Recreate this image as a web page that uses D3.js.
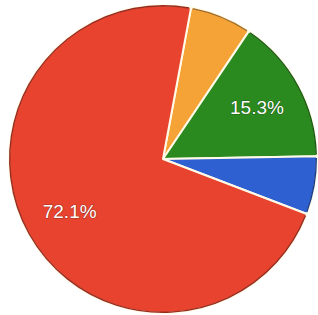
<!DOCTYPE html>
<html><head><meta charset="utf-8">
<script src="https://cdn.jsdelivr.net/npm/d3@7"></script>
<style>html,body{margin:0;padding:0;background:#fff;}</style>
</head><body>
<script>
const categories = ["Orange", "Green", "Blue", "Red"];
const values = [6.5, 15.3, 6.1, 72.1];
const labels = ["", "15.3%", "", "72.1%"];
const colors = ["#f5a236", "#2b8a1f", "#2f60d2", "#e8432f"];

const W = 318, H = 315, cx = 163, cy = 159, R = 154;
const startDeg = 10.5;

const svg = d3.select("body").append("svg").attr("width", W).attr("height", H);
const g = svg.append("g").attr("transform", `translate(${cx},${cy})`);

const pie = d3.pie().sort(null).value(d => d)
  .startAngle(startDeg * Math.PI / 180)
  .endAngle(startDeg * Math.PI / 180 + 2 * Math.PI);
const arcs = pie(values);
const arc = d3.arc().innerRadius(0).outerRadius(R);
const rim = d3.arc().innerRadius(R - 0.6).outerRadius(R - 0.6);
const labelArc = d3.arc().innerRadius(107).outerRadius(107);

g.selectAll("path.slice").data(arcs).join("path")
  .attr("class", "slice")
  .attr("d", arc)
  .attr("fill", (d, i) => colors[i])
  .attr("stroke", "#fffbe8")
  .attr("stroke-width", 2)
  .attr("stroke-linejoin", "round");

g.selectAll("path.rim").data(arcs).join("path")
  .attr("class", "rim")
  .attr("d", d => d3.arc().innerRadius(R - 0.7).outerRadius(R - 0.7)({startAngle: d.startAngle + 0.012, endAngle: d.endAngle - 0.012}))
  .attr("fill", "none")
  .attr("stroke", (d, i) => d3.color(colors[i]).darker(1.2))
  .attr("stroke-width", 1.4);

g.selectAll("text.lbl").data(arcs).join("text")
  .attr("class", "lbl")
  .attr("transform", d => `translate(${labelArc.centroid(d)})`)
  .attr("text-anchor", "middle")
  .attr("dominant-baseline", "central")
  .attr("font-family", "Liberation Sans, Arial, sans-serif")
  .attr("font-size", 19)
  .attr("fill", "#fff")
  .style("paint-order", "stroke")
  .attr("stroke", "rgba(0,0,0,0.3)")
  .attr("stroke-width", 1.2)
  .text((d, i) => labels[i]);
</script>
</body></html>
